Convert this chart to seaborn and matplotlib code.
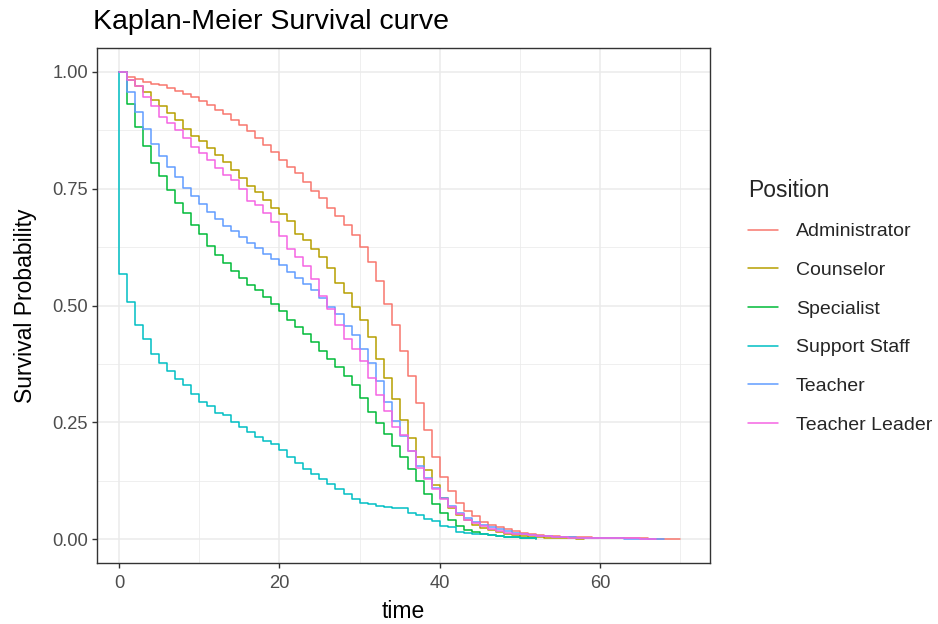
import numpy as np
import pandas as pd
import matplotlib
matplotlib.use("Agg")
import matplotlib.pyplot as plt
import seaborn as sns

# ---------------- data (survival probability at t = 0, 1, 2, ... months) ----------------
positions = ["Administrator", "Counselor", "Specialist", "Support Staff", "Teacher", "Teacher Leader"]

administrator = [1.000, 0.989, 0.984, 0.979, 0.975, 0.971, 0.966, 0.960, 0.953, 0.946,
                 0.938, 0.929, 0.919, 0.909, 0.898, 0.886, 0.873, 0.859, 0.844, 0.828,
                 0.812, 0.796, 0.783, 0.764, 0.746, 0.729, 0.709, 0.691, 0.672, 0.650,
                 0.625, 0.593, 0.552, 0.504, 0.459, 0.402, 0.349, 0.291, 0.234, 0.175,
                 0.134, 0.102, 0.077, 0.060, 0.050, 0.037, 0.030, 0.026, 0.022, 0.018,
                 0.014, 0.011, 0.008, 0.007, 0.006, 0.005, 0.004, 0.004, 0.004, 0.003,
                 0.003, 0.003, 0.002, 0.002, 0.002, 0.002, 0.001, 0.001, 0.001, 0.001,
                 0.000]
counselor = [1.000, 0.983, 0.970, 0.957, 0.939, 0.926, 0.912, 0.897, 0.878, 0.862,
             0.851, 0.837, 0.823, 0.808, 0.791, 0.773, 0.755, 0.743, 0.726, 0.709,
             0.696, 0.680, 0.652, 0.640, 0.621, 0.604, 0.581, 0.548, 0.526, 0.497,
             0.469, 0.432, 0.385, 0.344, 0.299, 0.256, 0.216, 0.175, 0.148, 0.116,
             0.088, 0.067, 0.051, 0.040, 0.031, 0.024, 0.019, 0.015, 0.012, 0.009,
             0.007, 0.005, 0.004, 0.003, 0.003, 0.002, 0.002, 0.001, 0.000]
specialist = [1.000, 0.932, 0.883, 0.842, 0.805, 0.778, 0.748, 0.719, 0.697, 0.672,
              0.652, 0.627, 0.607, 0.590, 0.573, 0.558, 0.544, 0.534, 0.519, 0.503,
              0.488, 0.470, 0.454, 0.438, 0.422, 0.402, 0.386, 0.369, 0.349, 0.329,
              0.302, 0.272, 0.248, 0.224, 0.199, 0.175, 0.150, 0.125, 0.096, 0.076,
              0.057, 0.041, 0.028, 0.020, 0.015, 0.011, 0.009, 0.007, 0.005, 0.004,
              0.003, 0.002, 0.000]
support_staff = [0.568, 0.508, 0.459, 0.429, 0.397, 0.377, 0.360, 0.343, 0.329, 0.311,
                 0.294, 0.285, 0.271, 0.265, 0.251, 0.241, 0.229, 0.219, 0.210, 0.203,
                 0.191, 0.175, 0.164, 0.150, 0.139, 0.128, 0.118, 0.107, 0.096, 0.085,
                 0.078, 0.075, 0.071, 0.068, 0.066, 0.066, 0.057, 0.051, 0.043, 0.039,
                 0.028, 0.025, 0.016, 0.014, 0.012, 0.010, 0.008, 0.006, 0.005, 0.004,
                 0.003, 0.002, 0.000]
teacher = [1.000, 0.956, 0.915, 0.877, 0.846, 0.820, 0.796, 0.774, 0.751, 0.734,
           0.717, 0.700, 0.685, 0.671, 0.660, 0.646, 0.634, 0.623, 0.611, 0.600,
           0.587, 0.571, 0.559, 0.547, 0.533, 0.516, 0.497, 0.481, 0.456, 0.436,
           0.407, 0.378, 0.339, 0.293, 0.253, 0.221, 0.189, 0.157, 0.130, 0.110,
           0.088, 0.070, 0.056, 0.045, 0.036, 0.030, 0.025, 0.021, 0.017, 0.014,
           0.011, 0.009, 0.007, 0.006, 0.005, 0.004, 0.004, 0.003, 0.003, 0.002,
           0.002, 0.002, 0.002, 0.001, 0.001, 0.001, 0.001, 0.001, 0.000]
teacher_leader = [1.000, 0.983, 0.970, 0.947, 0.926, 0.903, 0.890, 0.876, 0.858, 0.839,
                  0.826, 0.812, 0.794, 0.780, 0.769, 0.749, 0.723, 0.714, 0.698, 0.678,
                  0.648, 0.621, 0.604, 0.584, 0.556, 0.521, 0.493, 0.459, 0.429, 0.406,
                  0.381, 0.345, 0.309, 0.274, 0.241, 0.222, 0.189, 0.153, 0.128, 0.108,
                  0.085, 0.068, 0.053, 0.042, 0.034, 0.028, 0.022, 0.018, 0.014, 0.012,
                  0.010, 0.008, 0.007, 0.006, 0.005, 0.004, 0.003, 0.003, 0.003, 0.003,
                  0.002, 0.002, 0.002, 0.002, 0.002, 0.001, 0.001, 0.000]

series = [administrator, counselor, specialist, support_staff, teacher, teacher_leader]
colors = ["#F8766D", "#B79F00", "#00BA38", "#00BFC4", "#619CFF", "#F564E3"]

x_ticks = [0, 20, 40, 60]
y_ticks = [0.00, 0.25, 0.50, 0.75, 1.00]
y_ticklabels = ["0.00", "0.25", "0.50", "0.75", "1.00"]

# long table: each curve starts at (0, 1) then steps at integer months
rows = []
for name, vals in zip(positions, series):
    rows.append((name, 0.0, 1.0))
    for t, s in enumerate(vals):
        rows.append((name, float(t), s))
df = pd.DataFrame(rows, columns=["Position", "time", "surv"])

# ---------------- plot ----------------
sns.set_style("white")
plt.rcParams["font.family"] = ["Liberation Sans", "DejaVu Sans"]

fig = plt.figure(figsize=(9.38, 6.24), dpi=100)
ax = fig.add_axes([97 / 938, 1 - 563 / 624, (710 - 97) / 938, (563 - 48) / 624])

sns.lineplot(data=df, x="time", y="surv", hue="Position", hue_order=positions,
             palette=colors, estimator=None, sort=False, drawstyle="steps-post",
             linewidth=1.1, ax=ax, legend=True)

ax.set_xlim(-2.74, 73.7)
ax.set_ylim(-0.051, 1.051)
ax.set_xticks(x_ticks)
ax.set_xticks([10, 30, 50, 70], minor=True)
ax.set_yticks(y_ticks)
ax.set_yticklabels(y_ticklabels)
ax.set_yticks([0.125, 0.375, 0.625, 0.875], minor=True)

ax.grid(True, which="major", color="#EBEBEB", linewidth=1.1)
ax.grid(True, which="minor", color="#EBEBEB", linewidth=0.55)
ax.set_axisbelow(True)
for sp in ax.spines.values():
    sp.set_color("#333333")
    sp.set_linewidth(1.0)
ax.tick_params(axis="both", which="major", length=3.5, width=1.0, color="#333333",
               labelcolor="#4D4D4D", labelsize=13.2, pad=3, bottom=True, left=True)
ax.tick_params(axis="x", which="major", pad=5)
ax.tick_params(axis="both", which="minor", length=0)

ax.set_xlabel("time", fontsize=16.5, color="black", labelpad=6)
ax.set_ylabel("Survival Probability", fontsize=16.5, color="black", labelpad=11)

handles, labels = ax.get_legend_handles_labels()
leg = ax.legend(handles, labels, title="Position", loc="upper left",
                bbox_to_anchor=(1.049, 0.761), frameon=False, fontsize=14,
                title_fontsize=16.5, handlelength=1.55, handletextpad=0.93,
                labelspacing=1.08, borderaxespad=0)
leg._legend_box.align = "left"
for ln in leg.get_lines():
    ln.set_linewidth(1.1)

fig.text(93 / 938, 1 - 22 / 624, "Kaplan-Meier Survival curve", fontsize=20.5,
         ha="left", va="center", color="black")

fig.savefig("out.png", dpi=100, facecolor="white")
